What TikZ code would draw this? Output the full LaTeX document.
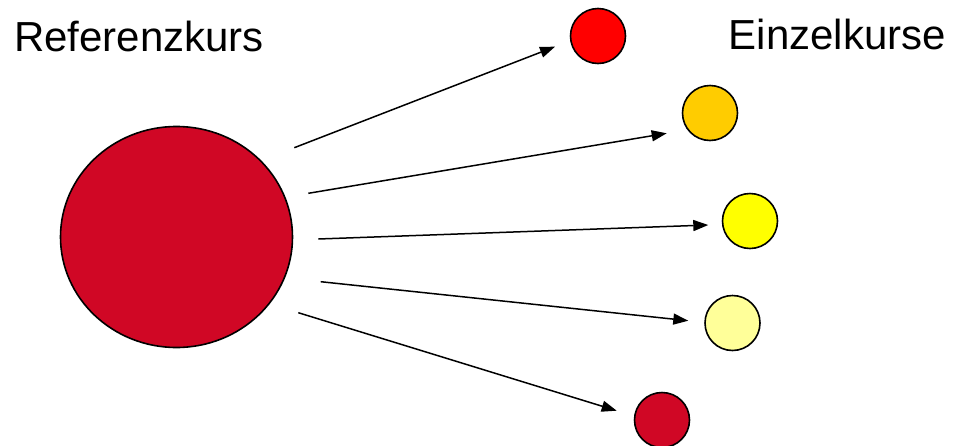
\documentclass[tikz,border=0pt]{standalone}
\usepackage{fontspec}
\setmainfont{Liberation Sans}
\usetikzlibrary{arrows.meta}
\definecolor{crimson}{RGB}{208,7,37}
\definecolor{cred}{RGB}{255,0,0}
\definecolor{corange}{RGB}{255,204,0}
\definecolor{cyellow}{RGB}{255,255,0}
\definecolor{clight}{RGB}{255,255,153}
\tikzset{
  ball/.style={draw=black, line width=1.6pt, ellipse, inner sep=0pt, minimum size=55pt},
  lbl/.style={anchor=base west, inner sep=0pt, font=\fontsize{42}{50}\selectfont},
  arr/.style={draw=black, line width=1.5pt, -{Triangle[length=15pt,width=11pt]}}
}
\usetikzlibrary{shapes.geometric}
\begin{document}
\begin{tikzpicture}[x=1pt,y=-1pt]
\useasboundingbox (0,0) rectangle (954,445);
\node[lbl] (ref) at (14,51.5) {Referenzkurs};
\node[lbl] (einz) at (728.5,49.5) {Einzelkurse};
\node[draw=black, line width=1.6pt, ellipse, inner sep=0pt, fill=crimson,
  minimum width=232pt, minimum height=221pt] (big) at (176.5,237) {};
\node[ball, fill=cred] (c1) at (598,36) {};
\node[ball, fill=corange] (c2) at (710,113) {};
\node[ball, fill=cyellow] (c3) at (750,221) {};
\node[ball, fill=clight] (c4) at (732.5,323) {};
\node[ball, fill=crimson] (c5) at (662,420) {};
\coordinate (s1) at (294.3,147.7);
\coordinate (s2) at (308.3,193.3);
\coordinate (s3) at (318.3,239);
\coordinate (s4) at (320.7,281.7);
\coordinate (s5) at (298.3,312.7);
\coordinate (e1) at (555,46.7);
\coordinate (e2) at (666.7,133.3);
\coordinate (e3) at (708.3,225);
\coordinate (e4) at (688.3,320.7);
\coordinate (e5) at (616.7,410.7);
\draw[arr] (s1) -- (e1);
\draw[arr] (s2) -- (e2);
\draw[arr] (s3) -- (e3);
\draw[arr] (s4) -- (e4);
\draw[arr] (s5) -- (e5);
\end{tikzpicture}
\end{document}
